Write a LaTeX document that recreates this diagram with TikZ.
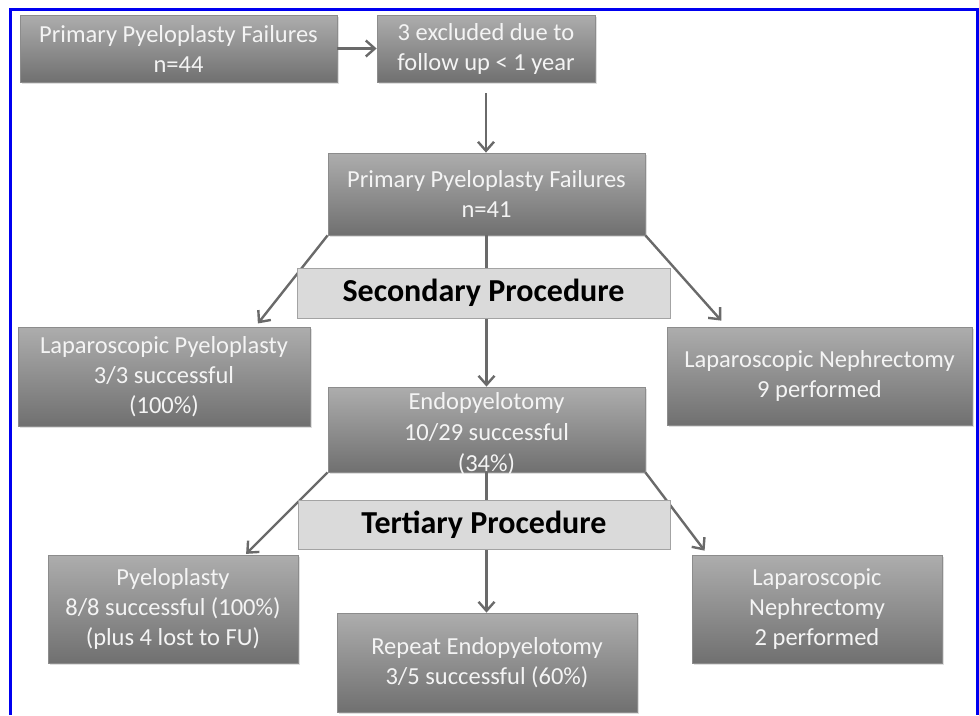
\documentclass[tikz,border=0pt]{standalone}
\usepackage{fontspec}
\setmainfont{Carlito}
\usepackage{tikz}
\usetikzlibrary{positioning,arrows.meta,shadows}

\definecolor{boxtop}{HTML}{ADADAD}
\definecolor{boxbottom}{HTML}{707070}
\definecolor{boxedge}{HTML}{8C8C8C}
\definecolor{boxtext}{HTML}{F4F4F4}
\definecolor{barfill}{HTML}{DADADA}
\definecolor{baredge}{HTML}{A3A3A3}
\definecolor{linkgray}{HTML}{6A6A6A}
\definecolor{framblue}{HTML}{0000F0}

\begin{document}
\begin{tikzpicture}[
    x=1pt, y=-1pt,
    >={Straight Barb[length=9pt,width=16pt]}
]

\tikzstyle{result}=[
    rectangle,
    draw=boxedge,
    line width=0.8pt,
    top color=boxtop,
    bottom color=boxbottom,
    text=boxtext,
    align=center,
    inner sep=0pt,
    font=\fontsize{24.5}{30}\selectfont,
    drop shadow={opacity=0.25, shadow xshift=1.5pt, shadow yshift=-1.5pt}
]
\tikzstyle{stage}=[
    rectangle,
    draw=baredge,
    line width=0.8pt,
    fill=barfill,
    text=black,
    inner sep=0pt,
    font=\bfseries\fontsize{32}{38}\selectfont
]
\tikzstyle{link}=[
    ->,
    draw=linkgray,
    line width=2.4pt
]

\useasboundingbox (0,0) rectangle (979,715);
\draw[framblue, line width=2.5pt] (10.5,715) -- (10.5,9.5) -- (977.5,9.5) -- (977.5,715);

\node[result, minimum width=317pt, minimum height=67pt] (fail44) at (178.5,48.5) {Primary Pyeloplasty Failures\\n=44};
\node[result, minimum width=218pt, minimum height=67pt] (excluded) at (486,48.5) {3 excluded due to\\follow up < 1 year};
\node[result, minimum width=317pt, minimum height=82pt] (fail41) at (486.5,194) {Primary Pyeloplasty Failures\\n=41};

\node[result, minimum width=292pt, minimum height=99pt] (lappyelo) at (164,376.5) {Laparoscopic Pyeloplasty\\3/3 successful\\(100\%)};
\node[result, minimum width=317pt, text height=84pt, text depth=1pt, font=\fontsize{24.5}{31}\selectfont] (endo) at (486.5,429.5) {Endopyelotomy\\10/29 successful\\(34\%)};
\node[result, minimum width=305pt, minimum height=98pt] (lapneph) at (819.5,376) {Laparoscopic Nephrectomy\\9 performed};

\node[result, minimum width=250pt, minimum height=108pt] (pyelo) at (173,609) {Pyeloplasty\\8/8 successful (100\%)\\(plus 4 lost to FU)};
\node[result, minimum width=300pt, minimum height=99pt] (repeat) at (487,662.5) {Repeat Endopyelotomy\\3/5 successful (60\%)};
\node[result, minimum width=250pt, minimum height=108pt] (lapneph2) at (817,609) {Laparoscopic\\Nephrectomy\\2 performed};

\draw[link] (fail44) -- (excluded);
\draw[link, shorten <=11pt] (excluded.south) -- (excluded.south |- fail41.north);

\draw[link, shorten >=4pt] (fail41.south west) -- ([xshift=-55pt]lappyelo.north east);
\draw[link] (fail41.south) -- (fail41.south |- endo.north);
\draw[link, shorten >=8pt] (fail41.south east) -- ([xshift=60pt]lapneph.north west);

\draw[link, shorten >=1pt] (endo.south west) -- ([xshift=-53pt]pyelo.north east);
\draw[link] (endo.south) -- (endo.south |- repeat.north);
\draw[link, shorten >=5pt] (endo.south east) -- ([xshift=16pt]lapneph2.north west);

\node[stage, minimum width=373pt, minimum height=50pt] (secondary) at (483.5,293) {Secondary Procedure};
\node[stage, minimum width=372pt, minimum height=49pt] (tertiary) at (484,524.5) {Tertiary Procedure};

\end{tikzpicture}
\end{document}
